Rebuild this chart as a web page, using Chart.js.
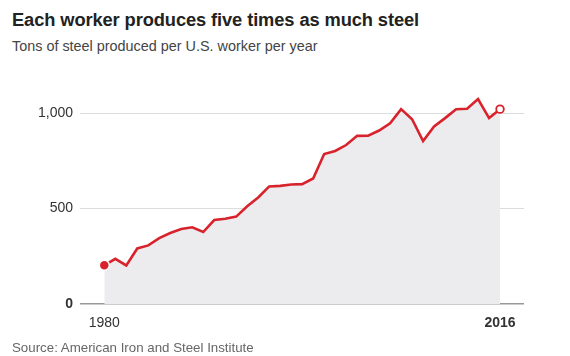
<!DOCTYPE html>
<html>
<head>
<meta charset="utf-8">
<script src="https://cdn.jsdelivr.net/npm/chart.js@4/dist/chart.umd.min.js"></script>
<style>
  html, body { margin: 0; padding: 0; background: #fff; }
  #wrap { position: relative; width: 570px; height: 356px; overflow: hidden; font-family: "Liberation Sans", Arial, sans-serif; }
  #title { position: absolute; left: 12px; top: 9px; font-size: 18.3px; font-weight: bold; color: #222; white-space: nowrap; letter-spacing: -0.1px; }
  #subtitle { position: absolute; left: 12px; top: 38px; font-size: 14.4px; color: #444; white-space: nowrap; }
  #source { position: absolute; left: 12px; top: 340px; font-size: 13.3px; color: #666; white-space: nowrap; }
  canvas { position: absolute; left: 0; top: 0; }
</style>
</head>
<body>
<div id="wrap">
  <div id="title">Each worker produces five times as much steel</div>
  <div id="subtitle">Tons of steel produced per U.S. worker per year</div>
  <canvas id="c" width="570" height="356"></canvas>
  <div id="source">Source: American Iron and Steel Institute</div>
</div>
<script>
const years = [1980,1981,1982,1983,1984,1985,1986,1987,1988,1989,1990,1991,1992,1993,1994,1995,1996,1997,1998,1999,2000,2001,2002,2003,2004,2005,2006,2007,2008,2009,2010,2011,2012,2013,2014,2015,2016];
const tonsPerWorker = [203,237,202,291,307,345,372,393,402,377,440,447,458,512,558,616,619,626,628,658,786,802,833,881,882,909,947,1021,968,854,930,974,1021,1023,1074,974,1021];
const yTicks = [0, 500, 1000];
const xTicks = [1980, 2016];

const RED = '#d8232c';
const data = years.map((y, i) => ({ x: y, y: tonsPerWorker[i] }));
const last = data.length - 1;

new Chart(document.getElementById('c'), {
  type: 'line',
  data: {
    datasets: [{
      data: data,
      borderColor: RED,
      borderWidth: 2.6,
      backgroundColor: '#ececef',
      fill: 'origin',
      tension: 0,
      borderJoinStyle: 'miter',
      pointRadius: ctx => ctx.dataIndex === 0 ? 5 : (ctx.dataIndex === last ? 3.8 : 0),
      pointBackgroundColor: ctx => ctx.dataIndex === 0 ? RED : '#fff',
      pointBorderColor: ctx => ctx.dataIndex === 0 ? '#fff' : RED,
      pointBorderWidth: ctx => ctx.dataIndex === 0 ? 1.5 : 1.8,
      pointHoverRadius: 0
    }]
  },
  options: {
    responsive: false,
    animation: false,
    events: [],
    layout: { padding: { left: 0, right: 46, top: 75, bottom: 22 } },
    plugins: { legend: { display: false }, tooltip: { enabled: false }, title: { display: false } },
    scales: {
      x: {
        type: 'linear',
        min: 1977.79,
        max: 2018.18,
        afterBuildTicks: s => { s.ticks = xTicks.map(v => ({ value: v })); },
        afterFit: s => { s.height = 30; },
        grid: { display: false, drawTicks: false },
        border: { display: false },
        ticks: {
          padding: 11,
          autoSkip: false,
          maxRotation: 0,
          color: '#333',
          font: ctx => ({ family: '"Liberation Sans", Arial, sans-serif', size: 14, weight: (ctx.tick && ctx.tick.value === 2016) ? 'bold' : 'normal' }),
          callback: v => String(v)
        }
      },
      y: {
        min: 0,
        max: 1200,
        afterBuildTicks: s => { s.ticks = yTicks.map(v => ({ value: v })); },
        afterFit: s => { s.width = 80; },
        grid: {
          drawTicks: false,
          color: ctx => (ctx.tick && ctx.tick.value === 0) ? '#999' : '#dcdcdc',
          lineWidth: ctx => (ctx.tick && ctx.tick.value === 0) ? 1.5 : 1
        },
        border: { display: false },
        ticks: {
          padding: 7,
          color: '#333',
          font: ctx => ({ family: '"Liberation Sans", Arial, sans-serif', size: 14, weight: (ctx.tick && ctx.tick.value === 0) ? 'bold' : 'normal' }),
          callback: v => v.toLocaleString('en-US')
        }
      }
    }
  }
});
</script>
</body>
</html>
